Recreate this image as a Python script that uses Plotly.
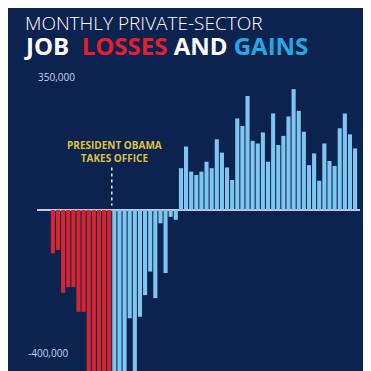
import plotly.graph_objects as go

# Monthly private-sector job change (thousands)
losses_before = [-114, -105, -218, -203, -203, -268, -268, -458, -481, -729, -705, -791]
losses_after = [-703, -823, -686, -285, -470, -281, -224, -162, -232, -35, -166, -18, -26]
gains = [110, 167, 101, 92, 101, 127, 110, 186, 151, 112, 79, 241, 221, 300, 182,
         175, 204, 127, 254, 171, 195, 246, 318, 261, 206, 118, 149, 77, 175, 129,
         116, 215, 254, 199, 162]
tick_values = [350, -400]
tick_labels = ["350,000", "-400,000"]

n_red = len(losses_before)
n_blue_neg = len(losses_after)
x_red = list(range(n_red))
x_blue = list(range(n_red, n_red + n_blue_neg + len(gains)))
blue_vals = losses_after + gains

BG = "#0c2350"
RED = "#d42631"
BLUE = "#7ec6ef"

fig = go.Figure()
fig.add_trace(go.Bar(x=x_red, y=losses_before, marker=dict(color=RED, line=dict(width=0)),
                     hoverinfo="skip"))
fig.add_trace(go.Bar(x=x_blue, y=blue_vals, marker=dict(color=BLUE, line=dict(width=0)),
                     hoverinfo="skip"))

# dashed line for the inauguration
office_x = n_red - 0.5
fig.add_trace(go.Scatter(x=[office_x, office_x], y=[112, 12], mode="lines",
                         line=dict(color="#e8e8f0", width=1.5, dash="3px,3px"),
                         hoverinfo="skip"))

PLOT_LEFT_PX = 29  # figure is drawn 8px in from the page corner
W = 363
PLOT_W = W - PLOT_LEFT_PX - 11

def px_to_paper(px_abs):
    return (px_abs - 8 - PLOT_LEFT_PX) / PLOT_W

annotations = [
    dict(x=office_x + 0.5, y=155, xref="x", yref="y", text="PRESIDENT OBAMA<br>TAKES OFFICE",
         showarrow=False, font=dict(family="Open Sans", size=10, color="#dcc43a", weight="bold"),
         align="center", yanchor="middle"),
    dict(x=px_to_paper(23), y=1.0, xref="paper", yref="paper", xanchor="left", yanchor="middle",
         yshift=47, text="MONTHLY PRIVATE-SECTOR", showarrow=False,
         font=dict(family="Open Sans", size=19, color="#ffffff", weight=300)),
    dict(x=px_to_paper(22), y=1.0, xref="paper", yref="paper", xanchor="left", yanchor="middle",
         yshift=25,
         text=("<b>JOB  <span style='color:#e3202b'>LOSSES</span> AND "
               "<span style='color:#22a9e6'>GAINS</span></b>"),
         showarrow=False, font=dict(family="Open Sans", size=24, color="#ffffff")),
    dict(x=px_to_paper(36), y=tick_values[0], xref="paper", yref="y", xanchor="left",
         yanchor="middle", text=tick_labels[0], showarrow=False,
         font=dict(family="Open Sans", size=10, color="#c9d2e6")),
    dict(x=px_to_paper(26), y=tick_values[1], xref="paper", yref="y", xanchor="left",
         yanchor="bottom", text=tick_labels[1], showarrow=False,
         font=dict(family="Open Sans", size=10, color="#c9d2e6")),
]

fig.update_layout(
    width=W, height=363,
    margin=dict(l=PLOT_LEFT_PX, r=11, t=62, b=0),
    paper_bgcolor=BG, plot_bgcolor=BG,
    showlegend=False,
    bargap=0.2,
    barmode="overlay",
    annotations=annotations,
    xaxis=dict(range=[-3.1, 59.96], visible=False, fixedrange=True),
    yaxis=dict(range=[-423.7, 368.4], showticklabels=False, showgrid=False,
               zeroline=True, zerolinecolor="#c8c8e0", zerolinewidth=1.5, fixedrange=True),
)

fig.write_html("out.html", config={"displayModeBar": False})
